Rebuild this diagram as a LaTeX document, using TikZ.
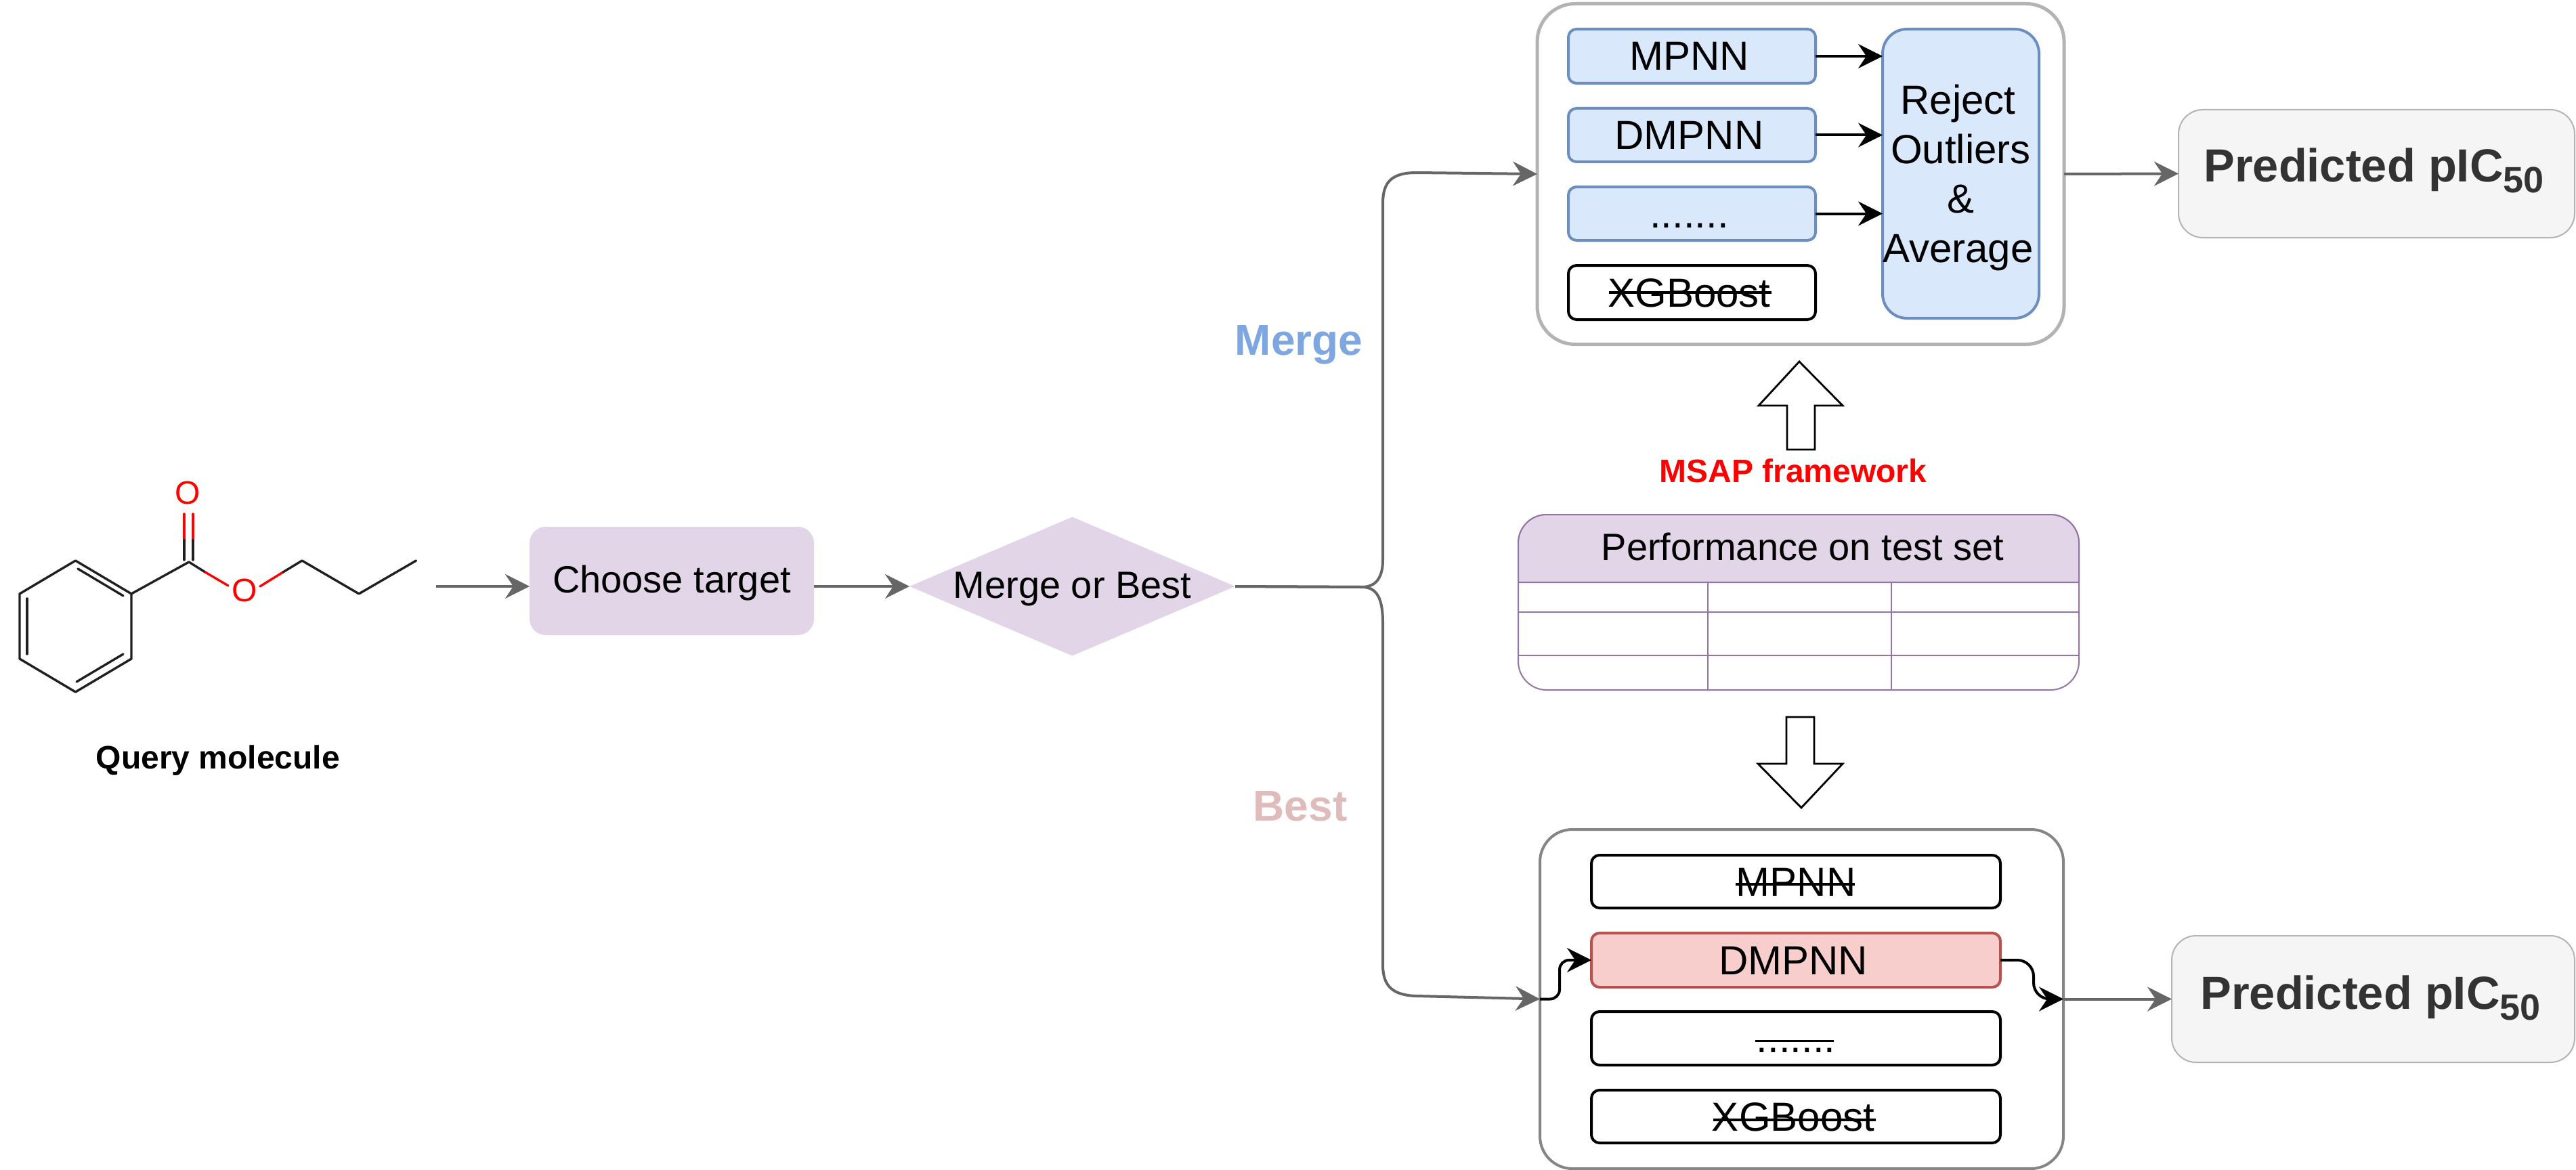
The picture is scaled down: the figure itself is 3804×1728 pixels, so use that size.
\documentclass[tikz,border=0pt]{standalone}
\usepackage{fontspec}
\setmainfont{Liberation Sans}
\usetikzlibrary{arrows.meta,shapes.geometric}
\newcommand{\pxfont}[1]{\fontsize{#1}{36.5}\selectfont}
\newcommand{\lpad}[1]{#1\hspace*{4pt}}
\tikzset{
  base/.style={inner sep=0pt,outer sep=0pt},
  tx/.style={base,text=black,font=\pxfont{30},text height=21pt,text depth=0pt},
  blue box/.style={tx,draw=blueline,fill=bluefill,line width=2pt,rounded corners=6pt},
  plain box/.style={tx,draw=black,fill=white,line width=2pt,rounded corners=6pt},
  red box/.style={tx,draw=redline,fill=redfill,line width=2pt,rounded corners=6pt},
  pred/.style={base,draw=predline,fill=predfill,line width=1pt,rounded corners=18pt,text=predtext,font=\pxfont{34.3}\bfseries,text depth=0pt},
  gray arrow/.style={draw=arrowgray,line width=2pt,-{Stealth[length=18pt,width=18pt,inset=6pt]}},
  black arrow/.style={draw=black,line width=2pt,-{Stealth[length=18pt,width=18pt,inset=6pt]}},
  strike/.style={draw=black,line width=1.75pt},
  block/.style={draw=black,fill=white,line width=1.4pt,line join=miter},
  tline/.style={draw=tblline,line width=1pt},
  bond/.style={draw=bonddark,line width=1.7pt,line cap=round,line join=round},
  rbond/.style={draw=red,line width=1.7pt,line cap=round},
  free/.style={base,anchor=base},
}
\definecolor{blueline}{HTML}{6C8EBF}
\definecolor{bluefill}{HTML}{DAE8FC}
\definecolor{redline}{HTML}{B85450}
\definecolor{redfill}{HTML}{F8CECC}
\definecolor{predline}{HTML}{B3B3B3}
\definecolor{predfill}{HTML}{F5F5F5}
\definecolor{predtext}{HTML}{333333}
\definecolor{arrowgray}{HTML}{666666}
\definecolor{tblline}{HTML}{9673A6}
\definecolor{purplefill}{HTML}{E1D5E7}
\definecolor{bonddark}{HTML}{1F1F1F}
\definecolor{mergecol}{HTML}{7EA6E0}
\definecolor{bestcol}{HTML}{E0BBBB}
\begin{document}
\begin{tikzpicture}[x=0.5pt,y=-0.5pt]
\useasboundingbox (0,0) rectangle (3804,1728);
\fill[white] (0,0) rectangle (3804,1728);

% molecule
\draw[bond] (194,877) -- (111.5,828) -- (29,877) -- (29,973) -- (111.5,1022) -- (194,973) -- cycle;
\draw[bond] (115,840) -- (182,880);
\draw[bond] (40,884) -- (40,966);
\draw[bond] (182,966) -- (113,1007);
\draw[bond] (194,877) -- (279,830);
\draw[bond] (272,827) -- (272,795);
\draw[bond] (285,827) -- (285,795);
\draw[rbond] (272,795) -- (272,759);
\draw[rbond] (285,795) -- (285,759);
\draw[bond] (279,830) -- (303,845);
\draw[rbond] (303,845) -- (337,865);
\draw[rbond] (384,866) -- (418,845);
\draw[bond] (418,845) -- (446,828) -- (530,877) -- (614.5,828);
\node[base,text=red,font=\pxfont{24}] (oxoa) at (277.6,728) {O};
\node[base,text=red,font=\pxfont{24}] (oxob) at (361,872) {O};
\node[free,font=\pxfont{24}\bfseries] (qm) at (322,1135) {Query molecule};
\coordinate (molend) at (644,866);

% flow
\node[tx,font=\pxfont{28},fill=purplefill,rounded corners=12pt,minimum width=210pt,minimum height=80pt,text height=17pt] (choose) at (992,858) {Choose target};
\node[tx,font=\pxfont{28},fill=purplefill,diamond,aspect=2.346,minimum width=240.5pt,minimum height=102.5pt,text height=17pt] (dia) at (1583.5,866) {Merge or Best};

% merge box
\node[base,draw=predline,fill=white,line width=2.5pt,rounded corners=28pt,minimum width=389pt,minimum height=251.5pt] (mergebox) at (2659,257) {};
\node[blue box,minimum width=182.5pt,minimum height=40pt] (m1) at (2498.5,83) {\lpad{MPNN}};
\node[blue box,minimum width=182.5pt,minimum height=39.5pt] (m2) at (2498.5,199.5) {\lpad{DMPNN}};
\node[blue box,minimum width=182.5pt,minimum height=39.5pt] (m3) at (2498.5,315.5) {\lpad{.......}};
\node[plain box,minimum width=182.5pt,minimum height=40pt] (m4) at (2498.5,432) {\lpad{XGBoost}};
\draw[strike] ([shift={(-123,0)}]m4.center) -- ([shift={(117,0)}]m4.center);
\node[base,draw=blueline,fill=bluefill,line width=2pt,rounded corners=18pt,minimum width=115.5pt,minimum height=213.5pt,align=center,font=\pxfont{30},text depth=0pt] (rej) at (2895.5,256.5) {\lpad{Reject}\\\lpad{Outliers}\\\lpad{\&}\\\lpad{Average}};
\draw[black arrow] (m1.east) -- (m1.east -| rej.west);
\draw[black arrow] (m2.east) -- (m2.east -| rej.west);
\draw[black arrow] (m3.east) -- (m3.east -| rej.west);
\node[pred,minimum width=292.5pt,minimum height=94.5pt,text height=12pt] (pred1) at (3509.5,256.5) {\lpad{Predicted pIC\raisebox{-8pt}{\pxfont{27}50}}};
\draw[gray arrow] (mergebox.east) -- (pred1.west);

% best box
\node[base,draw=arrowgray!80,fill=white,line width=2pt,rounded corners=24pt,minimum width=386.5pt,minimum height=250.5pt] (bestbox) at (2660.5,1475.5) {};
\node[plain box,minimum width=302pt,minimum height=39pt] (b1) at (2652,1302) {MPNN};
\draw[strike] ([shift={(-89,4)}]b1.center) -- ([shift={(87,4)}]b1.center);
\node[red box,minimum width=302pt,minimum height=40pt] (b2) at (2652,1418) {\lpad{DMPNN}};
\node[plain box,minimum width=302pt,minimum height=39.5pt] (b3) at (2652,1533.5) {.......};
\draw[strike] ([shift={(-60,4)}]b3.center) -- ([shift={(56,4)}]b3.center);
\node[plain box,minimum width=302pt,minimum height=39pt] (b4) at (2652,1649) {\lpad{XGBoost}};
\draw[strike] ([shift={(-122,5)}]b4.center) -- ([shift={(118,5)}]b4.center);
\draw[black arrow,rounded corners=7pt] (bestbox.west) -- ++(29,0) |- (b2.west);
\draw[black arrow,rounded corners=12pt] (b2.east) -- ++(49,0) |- (bestbox.east);
\node[pred,minimum width=297.5pt,minimum height=93.5pt,text height=15pt] (pred2) at (3504.5,1475.5) {\lpad{Predicted pIC\raisebox{-8pt}{\pxfont{27}50}}};
\draw[gray arrow] (bestbox.east) -- (pred2.west);

% main connectors
\draw[gray arrow] (molend) -- (choose.west |- molend);
\draw[gray arrow] (choose.east |- dia.west) -- (dia.west);
\coordinate (split) at (2011,867);
\draw[gray arrow] (dia.east) -- (split) .. controls (2034,867) and (2042,850) .. (2042,827) -- (2042,300) .. controls (2042,268) and (2056,255) .. (2092,255) -- (mergebox.west);
\draw[gray arrow] (dia.east) -- (split) .. controls (2034,867) and (2042,885) .. (2042,920) -- (2042,1425) .. controls (2042,1456) and (2056,1470) .. (2092,1471) -- (bestbox.west);

\node[free,text=mergecol,font=\pxfont{32}\bfseries] (merge) at (1918,524) {Merge};
\node[free,text=bestcol,font=\pxfont{32}\bfseries] (best) at (1920,1212) {Best};

% table
\node[base,draw=tblline,fill=white,line width=1pt,rounded corners=21pt,minimum width=414pt,minimum height=129.5pt] (tbl) at (2656,889.5) {};
\draw[tline,fill=purplefill] (2242,860) [rounded corners=21pt] -- (2242,760) -- (3070,760) [sharp corners] -- (3070,860) -- cycle;
\draw[tline] (2242,904) -- (3070,904);
\draw[tline] (2242,968) -- (3070,968);
\draw[tline] (2522,860) -- (2522,1019);
\draw[tline] (2793,860) -- (2793,1019);
\node[free,font=\pxfont{28}] (perf) at (2662,827) {Performance on test set};

% block arrows and label
\draw[block] (2639,664) -- (2639,599) -- (2597,599) -- (2657,534) -- (2721,599) -- (2680,599) -- (2680,664) -- cycle;
\draw[block] (2638,1059) -- (2638,1128) -- (2596,1128) -- (2660,1193) -- (2721,1128) -- (2679,1128) -- (2679,1059) -- cycle;
\node[free,text=red,font=\pxfont{24}\bfseries] (msap) at (2648,712) {MSAP framework};
\end{tikzpicture}
\end{document}
